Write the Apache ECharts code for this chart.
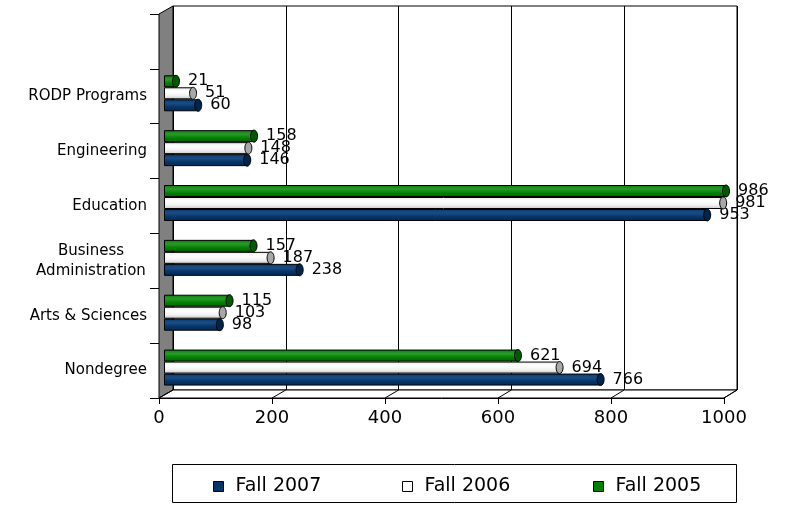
<!DOCTYPE html>
<html><head><meta charset="utf-8">
<script src="https://cdn.jsdelivr.net/npm/echarts@6/dist/echarts.min.js"></script>
<style>html,body{margin:0;padding:0;background:#fff}#c{width:785px;height:505px}</style>
</head><body><div id="c"></div>
<script>
// ---- data ----
const categories = ['Nondegree', 'Arts & Sciences', 'Business\nAdministration', 'Education', 'Engineering', 'RODP Programs', ''];
const fall2007 = [766, 98, 238, 953, 146, 60, null];
const fall2006 = [694, 103, 187, 981, 148, 51, null];
const fall2005 = [621, 115, 157, 986, 158, 21, null];
const seriesNames = ['Fall 2007', 'Fall 2006', 'Fall 2005'];
const xTicks = [0, 200, 400, 600, 800, 1000];

// ---- layout ----
const FONT = 'DejaVu Sans';
const FRONT = { left: 159, right: 724, top: 14, bottom: 398 };
const BACK = { left: 173, right: 737, top: 6, bottom: 390 };
const BARS = { left: 164, right: 734, top: 11, bottom: 395 };

function grad(stops) {
  return new echarts.graphic.LinearGradient(0, 0, 0, 1, stops.map((c, i) => ({ offset: i / (stops.length - 1), color: c })));
}
const styles = {
  'Fall 2007': { fill: grad(['#0a3a70', '#1b4d85', '#063366', '#002a57']), solid: '#003366', cap: '#00264d' },
  'Fall 2006': { fill: grad(['#e8e8e8', '#ffffff', '#f2f2f2', '#c8c8c8']), solid: '#ffffff', cap: '#a8a8a8' },
  'Fall 2005': { fill: grad(['#0a7a0a', '#2a9a2a', '#008000', '#006400']), solid: '#008000', cap: '#005a00' }
};
const seriesData = { 'Fall 2007': fall2007, 'Fall 2006': fall2006, 'Fall 2005': fall2005 };
// bar order inside a band (first = top)
const barOrder = ['Fall 2005', 'Fall 2006', 'Fall 2007'];
const BW = 12;

const series = [];
barOrder.forEach((name, k) => {
  series.push({
    name, type: 'bar', xAxisIndex: 2, yAxisIndex: 2, barWidth: BW, barGap: '0%',
    data: seriesData[name],
    itemStyle: { color: styles[name].fill, borderColor: '#000', borderWidth: 1 },
    label: { show: true, position: 'right', distance: 12, color: '#000', fontSize: 16, fontFamily: FONT },
    z: 2
  });
});
barOrder.forEach((name, k) => {
  const off = (k - (barOrder.length - 1) / 2) * BW;
  series.push({
    name, type: 'custom', xAxisIndex: 2, yAxisIndex: 2, z: 3,
    data: seriesData[name].map((v, i) => [v, i]).filter(d => d[0] != null),
    renderItem: function (params, api) {
      const p = api.coord([api.value(0), api.value(1)]);
      return { type: 'ellipse', shape: { cx: p[0], cy: p[1] + off, rx: 3.5, ry: BW / 2 },
        style: { fill: styles[name].cap, stroke: '#000', lineWidth: 1 } };
    }
  });
});

const legendPos = { 'Fall 2007': 213, 'Fall 2006': 402, 'Fall 2005': 593 };
const legends = seriesNames.map(n => ({
  left: legendPos[n], top: 477, padding: 0, itemWidth: 10, itemHeight: 10, icon: 'rect',
  data: [{ name: n, itemStyle: { color: styles[n].solid, borderColor: '#000', borderWidth: 1 } }],
  textStyle: { fontSize: 19, fontFamily: FONT, color: '#000', padding: [0, 0, 0, 7] }
}));

const option = {
  animation: false,
  backgroundColor: '#fff',
  grid: [
    { left: FRONT.left, top: FRONT.top, width: FRONT.right - FRONT.left, height: FRONT.bottom - FRONT.top },
    { left: BACK.left, top: BACK.top, width: BACK.right - BACK.left, height: BACK.bottom - BACK.top,
      show: true, backgroundColor: '#fff', borderColor: '#000', borderWidth: 1 },
    { left: BARS.left, top: BARS.top, width: BARS.right - BARS.left, height: BARS.bottom - BARS.top }
  ],
  xAxis: [
    { gridIndex: 0, type: 'value', min: 0, max: 1000, interval: 200,
      axisLine: { show: true, lineStyle: { color: '#000', width: 1 } },
      axisTick: { show: true, length: 6, lineStyle: { color: '#000' } },
      axisLabel: { fontSize: 18, fontFamily: FONT, color: '#000', margin: 11, formatter: v => String(v) },
      splitLine: { show: false } },
    { gridIndex: 1, type: 'value', min: 0, max: 1000, interval: 200,
      axisLine: { show: false }, axisTick: { show: false }, axisLabel: { show: false },
      splitLine: { show: true, lineStyle: { color: '#000', width: 1 } } },
    { gridIndex: 2, type: 'value', min: 0, max: 1000, show: false, splitLine: { show: false } }
  ],
  yAxis: [
    { gridIndex: 0, type: 'category', data: categories,
      axisLine: { show: true, lineStyle: { color: '#000', width: 1 } },
      axisTick: { show: true, length: 9, lineStyle: { color: '#000' } },
      axisLabel: { fontSize: 15, fontFamily: FONT, color: '#000', margin: 12, lineHeight: 20,
        formatter: function (v) {
          if (v.indexOf('\n') >= 0) return v.split('\n').map(s => '{c|' + s + '}').join('\n');
          return v;
        },
        rich: { c: { width: 112, align: 'center', fontSize: 15, fontFamily: FONT, color: '#000', lineHeight: 20 } } },
      splitLine: { show: false } },
    { gridIndex: 1, type: 'category', data: categories, show: false },
    { gridIndex: 2, type: 'category', data: categories, show: false }
  ],
  legend: legends,
  series
};

const chart = echarts.init(document.getElementById('c'), null, { renderer: 'canvas' });
chart.setOption(option);

// pseudo-3D walls derived from the axes
const fx = v => chart.convertToPixel({ xAxisIndex: 0 }, v);
const bx = v => chart.convertToPixel({ xAxisIndex: 1 }, v);
const elements = [
  { type: 'polygon', z: 1, shape: { points: [[FRONT.left, FRONT.top], [BACK.left, BACK.top], [BACK.left, BACK.bottom], [FRONT.left, FRONT.bottom]] },
    style: { fill: '#808080', stroke: '#000', lineWidth: 1 } },
  { type: 'polygon', z: 1, shape: { points: [[fx(0), FRONT.bottom], [fx(1000), FRONT.bottom], [bx(1000), BACK.bottom], [bx(0), BACK.bottom]] },
    style: { fill: '#fff', stroke: '#000', lineWidth: 1 } },
  { type: 'rect', z: 1, shape: { x: 172.5, y: 464.5, width: 564, height: 38 },
    style: { fill: 'none', stroke: '#000', lineWidth: 1 } }
];
xTicks.forEach(v => {
  elements.push({ type: 'line', z: 1, shape: { x1: fx(v), y1: FRONT.bottom, x2: bx(v), y2: BACK.bottom },
    style: { stroke: '#000', lineWidth: 1 } });
});
chart.setOption({ graphic: { elements } });
</script>
</body></html>
